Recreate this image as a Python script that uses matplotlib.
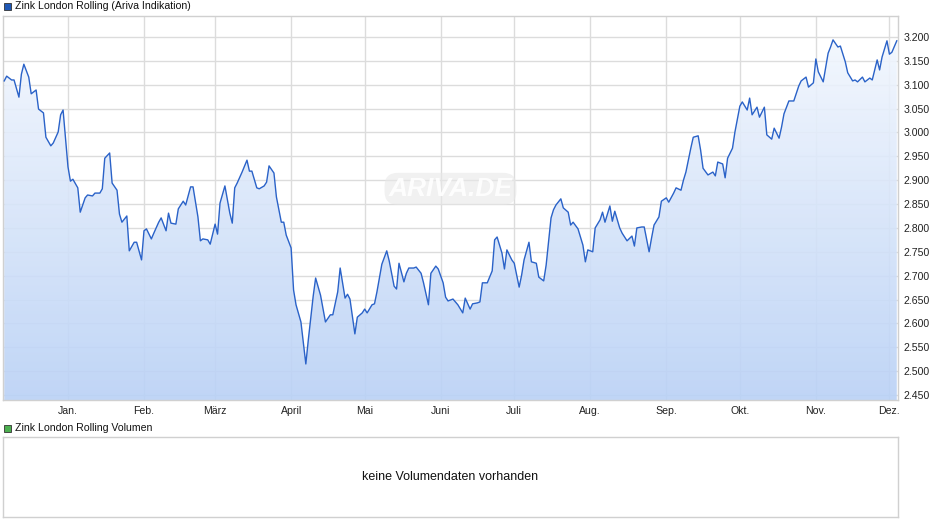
import numpy as np
import matplotlib
matplotlib.use("Agg")
import matplotlib.pyplot as plt
from matplotlib.patches import Polygon, Rectangle
from matplotlib.colors import LinearSegmentedColormap

plt.rcParams['font.family'] = ['Liberation Sans', 'DejaVu Sans']

# day offsets relative to 1 Jan 2024
days = [-26,-25,-23,-22,-20,-19,-18,-16,-15,-13,-12,-10,-9,-7,-6,-4,-3,-2,0,1,2,4,5,7,8,10,11,13,14,15,17,18,20,21,22,24,25,27,28,30,31,32,34,35,37,38,40,41,42,44,45,47,48,50,51,53,54,55,57,58,60,61,62,64,66,
        67,68,69,71,73,74,75,77,78,80,81,82,84,85,87,88,89,91,92,93,95,97,98,100,101,103,105,107,108,110,111,113,114,115,117,118,120,121,122,124,125,126,128,130,131,133,134,135,137,138,139,141,142,144,145,147,148,150,151,153,154,155,
        157,158,159,161,162,164,165,167,168,169,171,173,174,175,177,178,179,181,182,184,185,186,188,189,191,192,194,195,197,198,199,201,202,204,205,206,208,210,211,212,214,215,217,218,219,221,222,223,225,226,228,230,231,232,234,235,237,238,239,241,242,244,245,
        247,248,250,251,252,254,255,257,258,259,261,263,264,265,267,268,269,271,272,274,275,277,278,279,281,282,284,285,287,288,290,291,292,294,295,296,298,299,301,302,304,305,306,308,310,311,312,314,315,317,318,320,321,322,324,325,327,328,330,331,332,334,335,336,338]
prices = [3.108,3.118,3.110,3.110,3.074,3.122,3.143,3.116,3.081,3.089,3.049,3.041,2.990,2.972,2.978,3.001,3.037,3.047,2.928,2.898,2.902,2.884,2.833,2.863,2.869,2.867,2.873,2.873,2.882,2.946,2.957,2.894,2.879,2.829,2.812,2.825,2.752,2.770,2.770,2.733,2.794,2.798,2.777,2.789,2.812,2.821,2.794,2.831,2.810,2.808,2.840,2.856,2.848,2.886,2.886,2.823,2.773,2.777,2.775,2.766,2.808,2.787,2.852,2.888,2.831,
          2.810,2.884,2.894,2.917,2.942,2.919,2.919,2.884,2.882,2.888,2.896,2.930,2.915,2.865,2.812,2.812,2.785,2.758,2.670,2.639,2.603,2.515,2.565,2.657,2.695,2.659,2.603,2.618,2.618,2.666,2.716,2.653,2.661,2.651,2.578,2.613,2.622,2.630,2.622,2.639,2.641,2.666,2.724,2.752,2.731,2.678,2.672,2.726,2.687,2.705,2.716,2.716,2.718,2.705,2.685,2.639,2.705,2.720,2.714,2.685,2.655,2.647,
          2.651,2.645,2.639,2.622,2.653,2.630,2.641,2.643,2.645,2.685,2.685,2.710,2.775,2.781,2.747,2.714,2.754,2.733,2.726,2.676,2.701,2.733,2.770,2.729,2.726,2.697,2.689,2.722,2.821,2.838,2.848,2.861,2.842,2.833,2.806,2.812,2.798,2.764,2.729,2.754,2.750,2.800,2.817,2.833,2.812,2.846,2.814,2.835,2.800,2.789,2.773,2.783,2.762,2.800,2.802,2.802,2.750,2.779,2.806,2.823,2.856,2.863,2.854,
          2.873,2.884,2.879,2.900,2.917,2.967,2.990,2.993,2.963,2.925,2.911,2.917,2.909,2.938,2.934,2.905,2.946,2.967,3.001,3.055,3.064,3.047,3.072,3.037,3.053,3.032,3.053,2.995,2.986,3.009,2.988,3.011,3.039,3.066,3.066,3.066,3.097,3.108,3.116,3.095,3.104,3.154,3.127,3.106,3.166,3.179,3.194,3.179,3.181,3.148,3.125,3.108,3.110,3.106,3.116,3.106,3.114,3.110,3.152,3.131,3.158,3.192,3.164,3.168,3.192]
month_days = [0,31,60,91,121,152,182,213,244,274,305,335]
month_labels = ["Jan.","Feb.","März","April","Mai","Juni","Juli","Aug.","Sep.","Okt.","Nov.","Dez."]
y_ticks = [2.45,2.50,2.55,2.60,2.65,2.70,2.75,2.80,2.85,2.90,2.95,3.00,3.05,3.10,3.15,3.20]

W, H = 940, 526
fig = plt.figure(figsize=(W/100, H/100), dpi=100)
ax = fig.add_axes([3/W, (H-400)/H, 895/W, 384/H])
x0, x1 = -26.5, 338.5
y0, y1 = 2.4395, 3.244
ax.set_xlim(x0, x1); ax.set_ylim(y0, y1)

grid_c = '#dcdcdc'
for m in month_days:
    ax.axvline(m, color=grid_c, lw=1, zorder=0)
for t in y_ticks:
    ax.axhline(t, color=grid_c, lw=1, zorder=0)

grad = np.linspace(0, 1, 256).reshape(-1, 1)
cmap = LinearSegmentedColormap.from_list('g', ['#b9d1f6', '#f4f8fe'])
im = ax.imshow(grad, extent=[x0, x1, y0, 3.22], origin='lower', aspect='auto', cmap=cmap, zorder=1, alpha=0.9)
poly = Polygon([(days[0], y0)] + list(zip(days, prices)) + [(days[-1], y0)], closed=True, transform=ax.transData)
im.set_clip_path(poly)
ax.plot(days, prices, color='#2a62c8', lw=1.0, zorder=3)

ax.text(0.50, 0.55, "ARIVA.DE", transform=ax.transAxes, fontsize=19, fontstyle='italic', fontweight='bold',
        color='white', ha='center', va='center', zorder=2, alpha=0.9,
        bbox=dict(boxstyle='round,pad=0.15,rounding_size=0.5', fc='#e8e8e8', ec='none', alpha=0.6))

ax.set_xticks(month_days)
ax.set_xticklabels(month_labels, fontsize=7.6, color='#222222')
ax.yaxis.tick_right()
ax.set_yticks(y_ticks)
ax.set_yticklabels([f"{t:.3f}" for t in y_ticks], fontsize=7.6, color='#222222')
ax.tick_params(length=0, pad=4)
for s in ax.spines.values():
    s.set_color('#d0d0d0'); s.set_linewidth(1)

fig.patches.append(Rectangle((4/W, (H-10)/H), 7/W, 7/H, transform=fig.transFigure, fc='#1f58b5', ec='#333333', lw=0.6))
fig.text(15/W, (H-6)/H, "Zink London Rolling (Ariva Indikation)", fontsize=7.6, va='center', ha='left', color='#111111')
fig.patches.append(Rectangle((4/W, (H-432)/H), 7/W, 7/H, transform=fig.transFigure, fc='#4caf50', ec='#333333', lw=0.6))
fig.text(15/W, (H-428)/H, "Zink London Rolling Volumen", fontsize=7.6, va='center', ha='left', color='#111111')

ax2 = fig.add_axes([3/W, (H-517)/H, 895/W, 80/H])
ax2.set_xticks([]); ax2.set_yticks([])
for s in ax2.spines.values():
    s.set_color('#d0d0d0'); s.set_linewidth(1)
ax2.text(0.5, 0.5, "keine Volumendaten vorhanden", transform=ax2.transAxes, ha='center', va='center', fontsize=9, color='#111111')

fig.savefig('out.png', dpi=100)
